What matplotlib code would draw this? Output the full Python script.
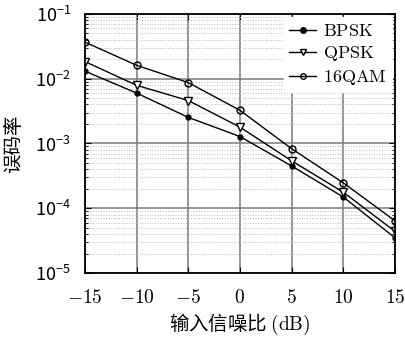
import matplotlib
matplotlib.use("Agg")
import matplotlib.pyplot as plt

plt.rcParams['mathtext.fontset'] = 'cm'
plt.rcParams['font.family'] = ['Noto Sans CJK SC', 'DejaVu Sans']

# data
snr = [-15, -10, -5, 0, 5, 10, 15]
ber_bpsk = [0.0131, 0.0060, 0.00253, 0.00128, 4.5e-4, 1.49e-4, 3.5e-5]
ber_qpsk = [0.0184, 0.0079, 0.0046, 0.00179, 5.4e-4, 1.77e-4, 4.4e-5]
ber_16qam = [0.0367, 0.0161, 0.0087, 0.00325, 8.3e-4, 2.47e-4, 6.4e-5]
series_names = [r'$\mathrm{BPSK}$', r'$\mathrm{QPSK}$', r'$\mathrm{16QAM}$']
xticks = [-15, -10, -5, 0, 5, 10, 15]
xtick_labels = [r'$%d$' % v for v in xticks]
ylabel = '误码率'
xlabel = r'输入信噪比 $\mathrm{(dB)}$'

fig = plt.figure(figsize=(4.06, 3.38), dpi=100)
ax = fig.add_axes([0.209, 0.192, 0.764, 0.767])

ax.semilogy(snr, ber_bpsk, color='black', lw=1, marker='o', ms=3.5,
            mfc='black', label=series_names[0])
ax.semilogy(snr, ber_qpsk, color='black', lw=1, marker='v', ms=5.5,
            mfc='white', mew=1, label=series_names[1])
ax.semilogy(snr, ber_16qam, color='black', lw=1, marker='o', ms=5,
            mfc='none', mew=1, label=series_names[2])

ax.set_xlim(-15, 15)
ax.set_ylim(1e-5, 1e-1)
ax.set_xticks(xticks)
ax.set_xticklabels(xtick_labels, fontsize=14)
ax.tick_params(axis='y', labelsize=13, pad=10)
ax.tick_params(axis='x', pad=10)
ax.tick_params(which='both', direction='in', top=True, right=True)
ax.tick_params(which='major', length=4)
ax.tick_params(which='minor', length=2.5)

ax.grid(True, which='major', color='#7a7a7a', lw=1.1, ls='-')
ax.grid(True, which='minor', axis='y', color='#b8b8b8', lw=0.7, ls=':')
for s in ax.spines.values():
    s.set_linewidth(1.3)

ax.set_ylabel(ylabel, fontsize=14, labelpad=8)
ax.set_xlabel(xlabel, fontsize=14, labelpad=3)

leg = ax.legend(loc='upper right', fontsize=13, handlelength=1.5,
                handletextpad=0.4, borderpad=0.3, labelspacing=0.25,
                borderaxespad=0.15, fancybox=False, framealpha=1,
                edgecolor='white', facecolor='white')
for h in leg.legend_handles:
    h.set_markersize(4)

fig.savefig('out.png', dpi=100)
